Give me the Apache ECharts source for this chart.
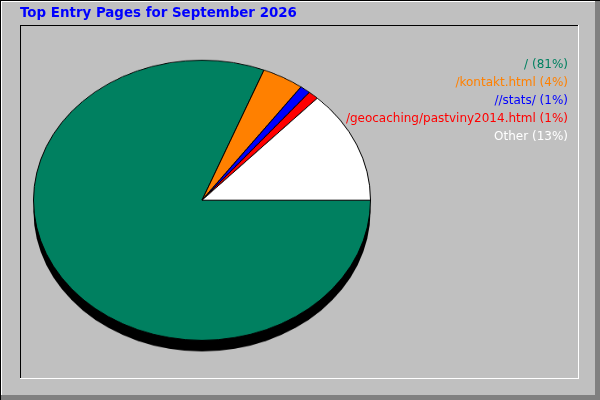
<!DOCTYPE html>
<html>
<head>
<meta charset="utf-8">
<script src="https://cdn.jsdelivr.net/npm/echarts@6/dist/echarts.min.js"></script>
<style>
  html, body { margin: 0; padding: 0; background: #c0c0c0; }
  #wrap { position: relative; width: 600px; height: 400px; overflow: hidden; }
  #frame { position: absolute; left: 0; top: 0; width: 600px; height: 400px; }
  /* pie is drawn as a circle then squashed into the ellipse of the original */
  #pie { position: absolute; left: 1.5px; top: 33.8px; width: 400px; height: 400px;
         transform: scaleY(0.8309); transform-origin: 0 0; }
</style>
</head>
<body>
<div id="wrap">
  <div id="frame"></div>
  <div id="pie"></div>
</div>
<script>
var titleText = 'Top Entry Pages for September 2026';
var pages = ['/', '/kontakt.html', '//stats/', '/geocaching/pastviny2014.html', 'Other'];
var percents = [81, 4, 1, 1, 13];
var colors = ['#008060', '#ff8000', '#0000ff', '#ff0000', '#ffffff'];
var textColors = ['#008060', '#ff8000', '#0000ff', '#ff0000', '#ffffff'];

// 背景、边框、标题、图例文字
(function () {
  var myChart = echarts.init(document.getElementById('frame'));

  var graphics = [
    { type: 'rect', shape: { x: 0, y: 0, width: 600, height: 400 }, style: { fill: '#c0c0c0' }, silent: true },
    // outer bevel
    { type: 'rect', shape: { x: 595, y: 0, width: 5, height: 400 }, style: { fill: '#808080' } },
    { type: 'rect', shape: { x: 0, y: 395, width: 600, height: 5 }, style: { fill: '#808080' } },
    { type: 'rect', shape: { x: 0, y: 0, width: 600, height: 1 }, style: { fill: '#000' } },
    { type: 'rect', shape: { x: 0, y: 0, width: 1, height: 400 }, style: { fill: '#000' } },
    { type: 'rect', shape: { x: 1, y: 1, width: 594, height: 1 }, style: { fill: '#fff' } },
    { type: 'rect', shape: { x: 1, y: 1, width: 1, height: 394 }, style: { fill: '#fff' } },
    // inner panel (inset)
    { type: 'rect', shape: { x: 20, y: 25, width: 559, height: 1 }, style: { fill: '#000' } },
    { type: 'rect', shape: { x: 20, y: 25, width: 1, height: 354 }, style: { fill: '#000' } },
    { type: 'rect', shape: { x: 578, y: 25, width: 1, height: 354 }, style: { fill: '#fff' } },
    { type: 'rect', shape: { x: 20, y: 378, width: 559, height: 1 }, style: { fill: '#fff' } },
    {
      type: 'text', left: 20, top: 7,
      style: { text: titleText, fill: '#0000ff', font: 'bold 13.4px "DejaVu Sans"' }
    }
  ];

  for (var i = 0; i < pages.length; i++) {
    graphics.push({
      type: 'text',
      x: 568,
      y: 65 + i * 17.9,
      style: {
        text: pages[i] + ' (' + percents[i] + '%)',
        fill: textColors[i],
        font: '12px "DejaVu Sans"',
        align: 'right',
        verticalAlign: 'middle',
        textShadowColor: 'rgba(0,0,0,0.4)',
        textShadowOffsetX: 1,
        textShadowOffsetY: 1,
        textShadowBlur: 0
      }
    });
  }

  myChart.setOption({ animation: false, graphic: graphics });
})();

// 饼图
(function () {
  var myChart = echarts.init(document.getElementById('pie'));

  var data = [];
  for (var i = 0; i < pages.length; i++) {
    data.push({ name: pages[i], value: percents[i], itemStyle: { color: colors[i] } });
  }

  var option = {
    animation: false,
    series: [
      {
        // 阴影
        type: 'pie',
        radius: 168.5,
        center: [200, 213.5],
        silent: true,
        z: 1,
        label: { show: false },
        labelLine: { show: false },
        itemStyle: { color: '#000', borderWidth: 0 },
        data: [{ name: 'shadow', value: 1 }]
      },
      {
        type: 'pie',
        radius: 168.5,
        center: [200, 200],
        startAngle: 0,
        clockwise: true,
        z: 2,
        label: { show: false },
        labelLine: { show: false },
        emphasis: { disabled: true },
        itemStyle: { borderColor: '#000', borderWidth: 1 },
        data: data
      }
    ]
  };

  myChart.setOption(option);
})();
</script>
</body>
</html>
